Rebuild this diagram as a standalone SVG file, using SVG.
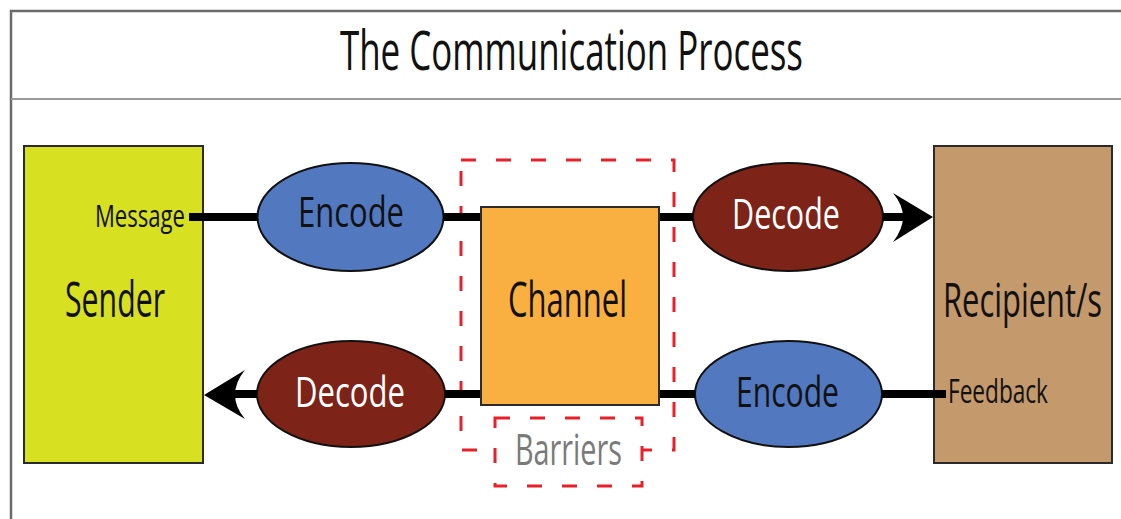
<svg xmlns="http://www.w3.org/2000/svg" width="1121" height="519" viewBox="0 0 1121 519">
  <style>
    text { font-family: "Open Sans", "Noto Sans", "Liberation Sans", sans-serif; }
    .frame { stroke: #6b6b6b; stroke-width: 2.5; fill: none; }
    .divider { stroke: #9a9a9a; stroke-width: 2; }
    .box { stroke: #2b2b2b; stroke-width: 2; }
    .oval { stroke: #111; stroke-width: 2; }
    .enc { fill: #5279c0; }
    .dec { fill: #7e2318; }
    .link { stroke: #000; stroke-width: 8; fill: none; }
    .barrier { fill: none; stroke: #e8202a; stroke-width: 3; stroke-dasharray: 15 20; }
    .dark { fill: #111; }
    .light { fill: #fff; }
  </style>

  <!-- frame and title -->
  <g id="header">
    <rect x="0" y="0" width="1121" height="519" fill="#fff"/>
    <path class="frame" d="M11 519 V11 H1121"/>
    <line class="divider" x1="11" y1="99" x2="1121" y2="99"/>
    <text x="340" y="70" font-size="54" class="dark" textLength="463" lengthAdjust="spacingAndGlyphs">The Communication Process</text>
  </g>

  <!-- sender -->
  <g id="sender">
    <rect class="box" x="24" y="146" width="179" height="317" fill="#d7e021"/>
    <text x="95" y="227" font-size="31" class="dark" textLength="90" lengthAdjust="spacingAndGlyphs">Message</text>
    <text x="65" y="317" font-size="49" class="dark" textLength="100" lengthAdjust="spacingAndGlyphs">Sender</text>
  </g>

  <!-- recipient -->
  <g id="recipient">
    <rect class="box" x="934" y="146" width="178" height="317" fill="#c4996b"/>
    <text x="943" y="317" font-size="48" class="dark" textLength="159" lengthAdjust="spacingAndGlyphs">Recipient/s</text>
    <text x="948" y="403" font-size="32" class="dark" textLength="100" lengthAdjust="spacingAndGlyphs">Feedback</text>
  </g>

  <!-- barriers around the channel -->
  <g id="barriers">
    <rect class="barrier" x="461" y="160" width="213" height="290"/>
    <rect x="495" y="418" width="147" height="68" fill="#fff"/>
    <rect class="barrier" x="495" y="418" width="147" height="68"/>
    <text x="515" y="465" font-size="44" fill="#7a7a7a" textLength="107" lengthAdjust="spacingAndGlyphs">Barriers</text>
  </g>

  <!-- channel -->
  <g id="channel">
    <rect class="box" x="481" y="207" width="178" height="198" fill="#f9b040"/>
    <text x="508" y="317" font-size="49" class="dark" textLength="119" lengthAdjust="spacingAndGlyphs">Channel</text>
  </g>

  <g id="encode-top">
    <ellipse class="oval enc" cx="350.5" cy="217" rx="93" ry="54"/>
    <text x="298" y="227" font-size="42" class="dark" textLength="106" lengthAdjust="spacingAndGlyphs">Encode</text>
  </g>

  <g id="decode-top">
    <ellipse class="oval dec" cx="788" cy="217" rx="95" ry="54"/>
    <text x="732" y="229" font-size="42" class="light" textLength="108" lengthAdjust="spacingAndGlyphs">Decode</text>
  </g>

  <g id="decode-bottom">
    <ellipse class="oval dec" cx="351" cy="394" rx="94" ry="53"/>
    <text x="295" y="407" font-size="42" class="light" textLength="110" lengthAdjust="spacingAndGlyphs">Decode</text>
  </g>

  <g id="encode-bottom">
    <ellipse class="oval enc" cx="788.5" cy="394" rx="93.5" ry="53"/>
    <text x="736" y="407" font-size="42" class="dark" textLength="103" lengthAdjust="spacingAndGlyphs">Encode</text>
  </g>

  <!-- connectors: forward path on top, feedback path below -->
  <g id="connectors">
    <line class="link" x1="189" y1="217" x2="257.5" y2="217"/>
    <line class="link" x1="443.5" y1="217" x2="480" y2="217"/>
    <line class="link" x1="660" y1="217" x2="693" y2="217"/>
    <line class="link" x1="883" y1="217" x2="905" y2="217"/>
    <path d="M933 217 L893 193 Q903 205 903 217 Q903 229 893 242 Z" fill="#000"/>
    <line class="link" x1="882" y1="394" x2="946" y2="394"/>
    <line class="link" x1="660" y1="394" x2="695" y2="394"/>
    <line class="link" x1="445" y1="394" x2="480" y2="394"/>
    <line class="link" x1="232" y1="394" x2="257" y2="394"/>
    <path d="M204 395 L245 370 Q235 382 235 395 Q235 407 245 419 Z" fill="#000"/>
  </g>
</svg>
